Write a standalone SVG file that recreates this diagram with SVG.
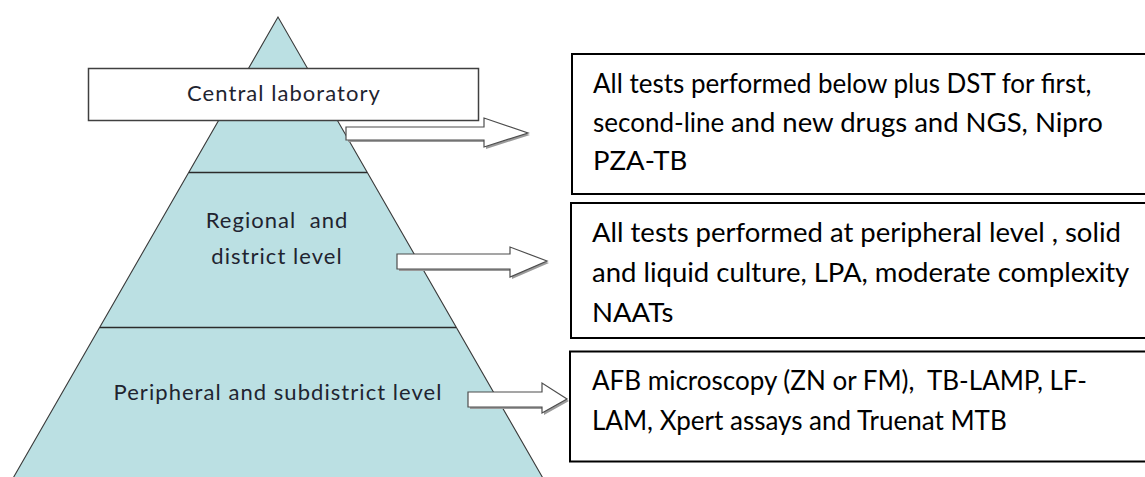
<svg xmlns="http://www.w3.org/2000/svg" width="1145" height="477" viewBox="0 0 1145 477">
  <style>
    .tier { fill: #bbe0e3; stroke: #3a3a3a; stroke-width: 1.1; }
    .divider { stroke: #2b2b2b; stroke-width: 1.5; fill: none; }
    .title-box { fill: #ffffff; stroke: #404040; stroke-width: 1.5; }
    .level { font-family: Lato, "Liberation Sans", sans-serif; font-size: 22px; letter-spacing: 1.05px; fill: #1f2430; text-anchor: middle; }
    .desc-box { fill: #ffffff; stroke: #000000; stroke-width: 2; }
    .desc { font-family: Lato, "Liberation Sans", sans-serif; font-size: 26px; fill: #000000; }
    .big { font-size: 27.5px; }
    .arrow { fill: #ffffff; stroke: #4d4d4d; stroke-width: 1.2; stroke-linejoin: miter; }
    .arrow-shadow { fill: #9a9a9a; }
  </style>

  <!-- pyramid of laboratory tiers -->
  <g id="pyramid">
    <polygon class="tier" points="278,17 12,480 544,480"/>
    <line class="divider" x1="189" y1="172.5" x2="367" y2="172.5"/>
    <line class="divider" x1="100" y1="327.5" x2="456" y2="327.5"/>
  </g>

  <g id="central-laboratory">
    <rect class="title-box" x="88.5" y="68.5" width="390" height="52"/>
    <text class="level" x="284" y="101">Central laboratory</text>
  </g>

  <g id="regional-district">
    <text class="level" x="277" y="228" xml:space="preserve">Regional  and</text>
    <text class="level" x="277" y="264">district level</text>
  </g>

  <g id="peripheral-subdistrict">
    <text class="level" x="278" y="400">Peripheral and subdistrict level</text>
  </g>

  <!-- tier to test-menu connectors: hollow block arrows with a soft drop shadow -->
  <g id="connectors">
    <polygon class="arrow-shadow" points="348,129 486,129 486,120 530,135 486,149 486,142 348,142"/>
    <polygon class="arrow" points="346,127 484,127 484,118 528,133 484,147 484,140 346,140"/>

    <polygon class="arrow-shadow" points="399,256 512,256 512,249 549,263 512,279 512,271 399,271"/>
    <polygon class="arrow" points="397,254 510,254 510,247 547,261 510,277 510,269 397,269"/>

    <polygon class="arrow-shadow" points="470,394 544,394 544,385 569,401 544,415 544,409 470,409"/>
    <polygon class="arrow" points="468,392 542,392 542,383 567,399 542,413 542,407 468,407"/>
  </g>

  <g id="central-tests">
    <rect class="desc-box" x="572" y="54" width="600" height="140"/>
    <text class="desc" x="593" y="93">All tests performed below plus DST for first,</text>
    <text class="desc" x="593" y="132">second-line <tspan class="big">and new drugs and NGS, Nipro</tspan></text>
    <text class="desc big" x="593" y="170">PZA-TB</text>
  </g>

  <g id="regional-tests">
    <rect class="desc-box" x="571" y="203" width="600" height="135"/>
    <text class="desc" x="592" y="242" style="font-size:27.5px">All tests performed at peripheral level , solid</text>
    <text class="desc" x="592" y="282" style="font-size:27.5px">and liquid culture, LPA, moderate complexity</text>
    <text class="desc" x="592" y="322" style="font-size:27.5px">NAATs</text>
  </g>

  <g id="peripheral-tests">
    <rect class="desc-box" x="570" y="351.5" width="600" height="110"/>
    <text class="desc" x="592" y="390" xml:space="preserve">AFB microscopy (ZN or FM),  TB-LAMP, LF-</text>
    <text class="desc" x="592" y="430">LAM, Xpert assays and Truenat MTB</text>
  </g>
</svg>
